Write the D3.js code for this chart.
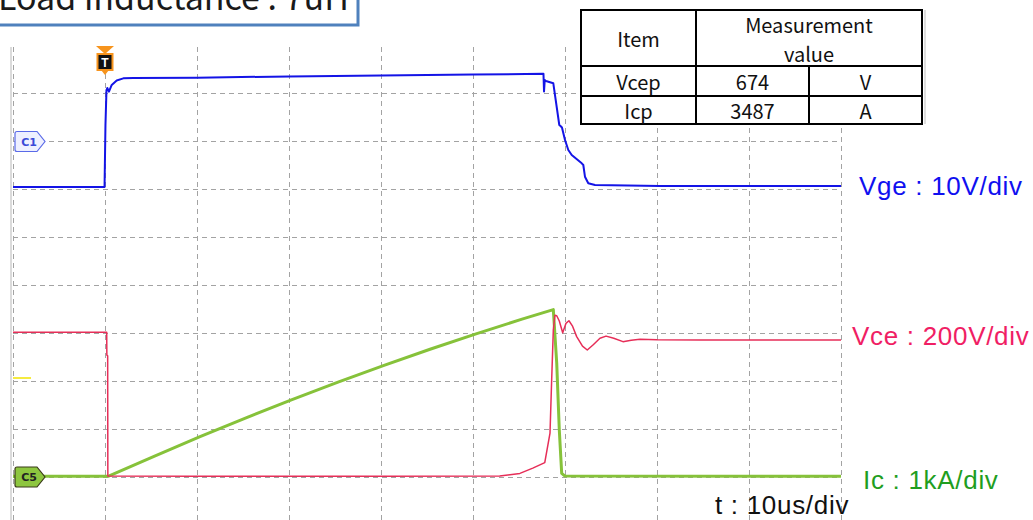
<!DOCTYPE html>
<html>
<head>
<meta charset="utf-8">
<script src="https://cdn.jsdelivr.net/npm/d3@7"></script>
<style>
  body { margin: 0; background: #fff; }
  svg { display: block; }
</style>
</head>
<body>
<svg id="scope" width="1033" height="520"></svg>
<script>
// Peak values reported in the measurement table
const vcePeak = 674;   // V
const icPeak = 3487;   // A

// Gate-emitter voltage Vge [V] against time [us]
const vgeTime = [-10, -0.05, 0.05, 0.16, 0.25, 0.43, 0.73, 1.27, 1.99, 3.08, 10, 20, 30, 40, 47.66,
                 47.72, 47.8, 47.93, 48.73, 49.38, 49.51, 49.67, 50.0, 50.36, 50.73, 51.82, 51.99,
                 52.17, 52.53, 53.26, 60.33, 80];
const vgeVolt = [-9.6, -9.6, 3.33, 10.6, 11.04, 10.27, 11.67, 12.6, 13.05, 13.15, 13.2, 13.45, 13.65, 13.85, 14.0,
                 10.3, 12.7, 12.5, 12.02, 3.33, 3.13, 2.81, 0.21, -1.88, -2.92, -4.65, -5.0,
                 -7.44, -8.81, -9.17, -9.38, -9.38];

// Collector-emitter voltage Vce [V] against time [us]
const vceTime = [-10, 0.185, 0.2, 0.29, 0.31, 10, 30, 42.9, 45.1, 46.5, 47.8, 48.37, 48.55, 48.73,
                 48.9, 49.1, 49.38, 49.75, 50.1, 50.43, 50.8, 51.27, 51.9, 52.42, 53.1, 53.8, 54.46,
                 55.3, 56.3, 57.2, 58.15, 60, 64.67, 80];
const vceVolt = [603, 603, 508, 505, 4, 3, 3, 4, 15, 37, 60, 183, 404, 612,
                 vcePeak, 672, 650, 601, 640, 651, 630, 585, 545, 529, 552, 578, 587,
                 578, 564, 570, 574, 572, 571, 571];

// Collector current Ic [A] against time [us]
const icTime = [-10, 0.33, 5.33, 10.33, 15.33, 20.33, 25.33, 30.33, 35.33, 40.33, 45.33, 48.73,
                49.1, 49.38, 49.64, 50.0, 80];
const icAmp = [15, 15, 432, 839, 1232, 1611, 1975, 2325, 2661, 2982, 3289, icPeak,
               2375, 979, 77, 20, 15];

// Graticule: 10 us per division horizontally, divisions vertically
const timeTicks = [-10, 0, 10, 20, 30, 40, 50, 60, 70, 80];
const divTicks = [0, 1, 2, 3, 4, 5, 6, 7, 8];

// Text content
const titleText = "Load inductance : 7uH";
const tableHead = ["Item", "Measurement", "value"];
const tableItems = ["Vcep", "Icp"];
const tableValues = [vcePeak, icPeak];
const tableUnits = ["V", "A"];
const channelLabels = ["Vge : 10V/div", "Vce : 200V/div", "Ic : 1kA/div"];
const timebaseLabel = "t : 10us/div";

// Channel settings: volts (or amps) per division and zero-level division
const vgeScale = 10, vgeOffset = 7;
const vceScale = 200, vceOffset = 0;
const icScale = 1000, icOffset = 0;

const svg = d3.select("#scope");
const x = d3.scaleLinear().domain([-10, 80]).range([13, 841]);
const y = d3.scaleLinear().domain([-1, 9]).range([525, 45]);

const gridColor = "#a3a3a3";

// Left frame edge
svg.append("line")
  .attr("x1", 11).attr("x2", 11).attr("y1", 47).attr("y2", 520)
  .attr("stroke", "#cfcfcf").attr("stroke-width", 1.5);

// Vertical grid
svg.append("g").selectAll("line").data(timeTicks).join("line")
  .attr("x1", d => x(d) + 0.5).attr("x2", d => x(d) + 0.5)
  .attr("y1", 47).attr("y2", 520)
  .attr("stroke", gridColor).attr("stroke-width", 1)
  .attr("stroke-dasharray", "5,4");

// Horizontal grid
svg.append("g").selectAll("line").data(divTicks).join("line")
  .attr("x1", 13).attr("x2", 841)
  .attr("y1", d => y(d) + 0.5).attr("y2", d => y(d) + 0.5)
  .attr("stroke", gridColor).attr("stroke-width", 1)
  .attr("stroke-dasharray", "5,4");

// Reference marker (yellow) on the left edge
svg.append("line")
  .attr("x1", 13).attr("x2", 31).attr("y1", 378).attr("y2", 378)
  .attr("stroke", "#f2e400").attr("stroke-width", 1.5);

const line = d3.line().x(d => x(d[0])).y(d => y(d[1]));

const vgePts = vgeTime.map((t, i) => [t, vgeOffset + vgeVolt[i] / vgeScale]);
const vcePts = vceTime.map((t, i) => [t, vceOffset + vceVolt[i] / vceScale]);
const icPts = icTime.map((t, i) => [t, icOffset + icAmp[i] / icScale]);

svg.append("path").datum(vgePts).attr("d", line)
  .attr("fill", "none").attr("stroke", "#1414e6").attr("stroke-width", 2)
  .attr("stroke-linejoin", "round");
svg.append("path").datum(icPts).attr("d", line)
  .attr("fill", "none").attr("stroke", "#86c23a").attr("stroke-width", 3)
  .attr("stroke-linejoin", "round");
svg.append("path").datum(vcePts).attr("d", line)
  .attr("fill", "none").attr("stroke", "#e62e58").attr("stroke-width", 1.5)
  .attr("stroke-linejoin", "round");

// Trigger marker
const tx = x(0);
const trig = svg.append("g");
trig.append("path")
  .attr("d", `M${tx - 9},46 L${tx + 9},46 L${tx},54 Z`).attr("fill", "#f7941d");
trig.append("rect")
  .attr("x", tx - 7.5).attr("y", 54).attr("width", 15).attr("height", 16)
  .attr("fill", "#111").attr("stroke", "#f7941d").attr("stroke-width", 2);
trig.append("path")
  .attr("d", `M${tx - 4},70 L${tx + 4},70 L${tx},75 Z`).attr("fill", "#f7941d");
trig.append("text")
  .attr("x", tx).attr("y", 66.5).attr("text-anchor", "middle")
  .attr("font-family", "Liberation Sans, Arial, sans-serif").attr("font-weight", "bold")
  .attr("font-size", 12).attr("fill", "#fff").text("T");

// Channel zero-level tags
function tag(yc, fill, stroke, label, textColor) {
  const g = svg.append("g");
  g.append("path")
    .attr("d", `M17,${yc - 10} L37,${yc - 10} L45,${yc} L37,${yc + 10} L17,${yc + 10} Q15,${yc + 10} 15,${yc + 8} L15,${yc - 8} Q15,${yc - 10} 17,${yc - 10} Z`)
    .attr("fill", fill).attr("stroke", stroke).attr("stroke-width", 1.2);
  g.append("text")
    .attr("x", 29).attr("y", yc + 4).attr("text-anchor", "middle")
    .attr("font-family", "DejaVu Sans, sans-serif").attr("font-weight", "bold")
    .attr("font-size", 11).attr("fill", textColor).text(label);
}
tag(y(vgeOffset) + 0.5, "#eef0ff", "#5a6ae8", "C1", "#3a4ad8");
tag(y(icOffset), "#8dc63f", "#3a3a1a", "C5", "#222");

// Title box
svg.append("rect")
  .attr("x", -10).attr("y", -10).attr("width", 368).attr("height", 35)
  .attr("fill", "#fff").attr("stroke", "#4f81bd").attr("stroke-width", 3);
svg.append("text")
  .attr("x", -2).attr("y", 10)
  .attr("font-family", "Noto Sans CJK JP, sans-serif").attr("font-size", 34)
  .attr("fill", "#1a1a1a").text(titleText);

// Measurement table
const tL = 581, tR = 922, tT = 10, tB = 124;
const c1 = 696, c2 = 809, r1 = 66, r2 = 96;
const tbl = svg.append("g");
tbl.append("rect").attr("x", tL).attr("y", tT).attr("width", tR - tL).attr("height", tB - tT)
  .attr("fill", "#fff").attr("stroke", "#000").attr("stroke-width", 2);
tbl.append("line").attr("x1", tR + 3).attr("x2", tR + 3).attr("y1", tT).attr("y2", tB)
  .attr("stroke", "#bdbdbd").attr("stroke-width", 1);
const segs = [[c1, tT, c1, tB], [c2, r1, c2, tB], [tL, r1, tR, r1], [tL, r2, tR, r2]];
tbl.selectAll("line.cell").data(segs).join("line").attr("class", "cell")
  .attr("x1", d => d[0]).attr("y1", d => d[1]).attr("x2", d => d[2]).attr("y2", d => d[3])
  .attr("stroke", "#000").attr("stroke-width", 2);
const tf = "Noto Sans CJK JP, sans-serif";
function cell(cx, by, s) {
  tbl.append("text").attr("x", cx).attr("y", by).attr("text-anchor", "middle")
    .attr("font-family", tf).attr("font-size", 20).attr("fill", "#111").text(s);
}
cell((tL + c1) / 2, 47, tableHead[0]);
cell((c1 + tR) / 2, 33, tableHead[1]);
cell((c1 + tR) / 2, 62, tableHead[2]);
const rowBase = [90, 119];
tableItems.forEach((s, i) => {
  cell((tL + c1) / 2, rowBase[i], s);
  cell((c1 + c2) / 2, rowBase[i], String(tableValues[i]));
  cell((c2 + tR) / 2, rowBase[i], tableUnits[i]);
});

// Channel scale labels
const lf = "Liberation Sans, Arial, sans-serif";
const labelPos = [[859, 195, "#1010f0"], [852, 345, "#f01e64"], [863, 489, "#1f9e1f"]];
channelLabels.forEach((s, i) => {
  svg.append("text").attr("x", labelPos[i][0]).attr("y", labelPos[i][1])
    .attr("font-family", lf).attr("font-size", 26).attr("letter-spacing", 0.7)
    .attr("fill", labelPos[i][2]).text(s);
});
svg.append("text").attr("x", 715).attr("y", 514)
  .attr("font-family", lf).attr("font-size", 26).attr("letter-spacing", 0.7)
  .attr("fill", "#111").text(timebaseLabel);
</script>
</body>
</html>
